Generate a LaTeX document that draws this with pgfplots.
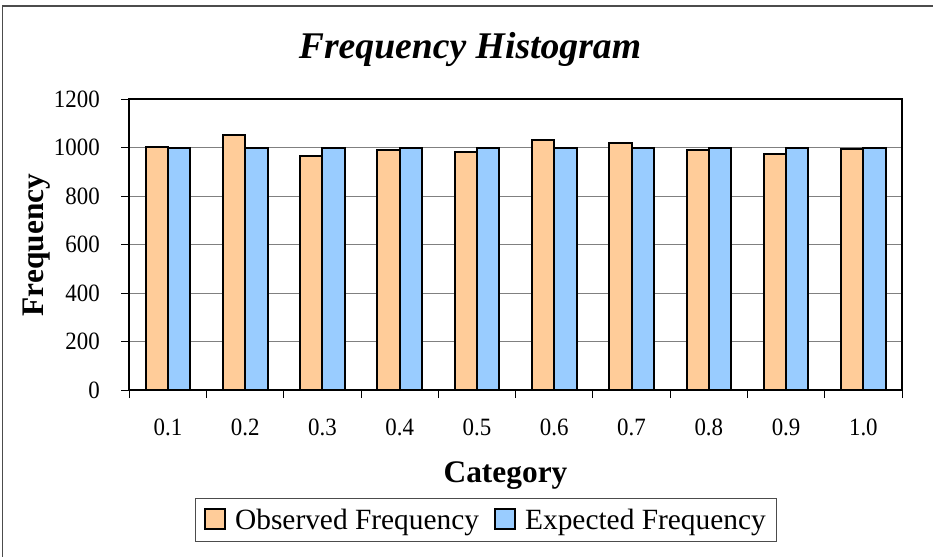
\documentclass[border=0pt]{standalone}
\usepackage{pgfplots}
\pgfplotsset{compat=1.18}
\usepackage{fontspec}
\setmainfont{Liberation Serif}
\newfontfamily\narrowserif[FakeStretch=0.92]{Liberation Serif}
\definecolor{obsfill}{HTML}{FFCC99}
\definecolor{expfill}{HTML}{99CCFF}
\definecolor{gridgray}{HTML}{808080}

% observed and expected counts per category
\pgfplotstableread{
idx observed expected
1   1003     1000
2   1054     1000
3   964      1000
4   990      1000
5   981      1000
6   1034     1000
7   1020     1000
8   990      1000
9   976      1000
10  994      1000
}\freqdata

\begin{document}
\begin{tikzpicture}
\path[use as bounding box] (0,0) rectangle (933bp,557bp);
% chart area frame
\draw[line width=1.5bp, black!70] (2.5bp,0) -- (2.5bp,551bp) -- (934bp,551bp);

\begin{axis}[
  at={(129.3bp,167bp)}, anchor=south west,
  scale only axis, width=772.7bp, height=290.7bp,
  xmin=0.5, xmax=10.5, ymin=0, ymax=1200,
  ybar=0pt, bar width=22.3bp,
  ytick={0,200,...,1200},
  xtick={0.5,1.5,...,10.5},
  xticklabels={},
  extra x ticks={1,2,...,10},
  extra x tick labels={0.1,0.2,0.3,0.4,0.5,0.6,0.7,0.8,0.9,1.0},
  extra x tick style={major tick length=0pt},
  tick pos=left, tick align=outside,
  major tick length=8bp,
  tick style={black, line width=1bp},
  ymajorgrids,
  grid style={gridgray, line width=1bp},
  axis line style={black, line width=2.2bp},
  /pgf/number format/assume math mode=true,
  /pgf/number format/1000 sep={},
  ticklabel style={font=\narrowserif\fontsize{25}{27}\selectfont},
  yticklabel style={anchor=east, inner sep=0pt, xshift=-21.3bp},
  xticklabel style={anchor=base, inner sep=0pt, yshift=-45bp},
  legend columns=2,
  legend cell align=left,
  legend image code/.code={%
    \draw[#1, line width=2bp] (0bp,-9.5bp) rectangle (20bp,10.5bp);},
  legend style={
    at={(0.4616,-0.3715)}, anchor=north,
    draw=black!70, line width=1bp,
    font=\fontsize{29.5}{31}\selectfont,
    inner xsep=9bp, inner ysep=8.5bp,
    /tikz/every odd column/.append style={column sep=7bp},
    /tikz/every even column/.append style={column sep=13bp},
  },
]
\addplot[draw=black, line width=2bp, fill=obsfill] table[x=idx, y=observed] {\freqdata};
\addplot[draw=black, line width=2bp, fill=expfill] table[x=idx, y=expected] {\freqdata};
\legend{Observed Frequency, Expected Frequency}
\end{axis}

% titles
\node[anchor=base, font=\fontsize{37.8}{40}\selectfont\bfseries\itshape] at (470bp,498bp) {Frequency Histogram};
\node[anchor=base, font=\fontsize{31.5}{33}\selectfont\bfseries] at (505.5bp,74bp) {Category};
\node[anchor=base, rotate=90, font=\fontsize{31.5}{33}\selectfont\bfseries] at (43bp,312bp) {Frequency};
\end{tikzpicture}
\end{document}
